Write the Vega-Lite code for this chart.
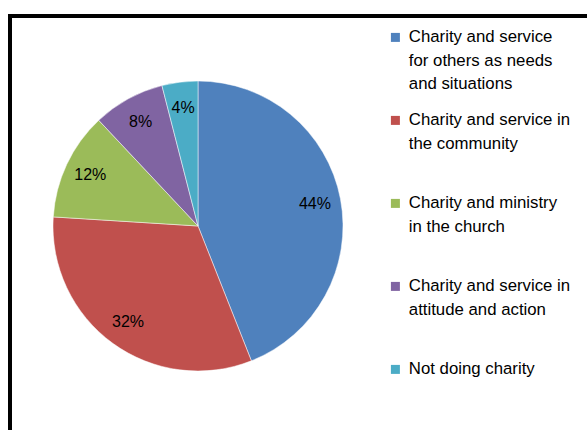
{
  "$schema": "https://vega.github.io/schema/vega-lite/v6.json",
  "autosize": "none",
  "width": 600,
  "height": 430,
  "padding": {"left": 10, "top": 16, "right": 0, "bottom": 0},
  "background": "white",
  "view": {"stroke": "#000000", "strokeWidth": 4, "fill": "white"},
  "config": {
    "view": {"stroke": "#000000", "strokeWidth": 4},
    "font": "Liberation Sans",
    "style": {"guide-label": {"lineHeight": 23.5}}
  },
  "data": {
    "values": [
      {"idx": 1, "category": "Charity and service for others as needs and situations", "value": 0.44},
      {"idx": 2, "category": "Charity and service in the community", "value": 0.32},
      {"idx": 3, "category": "Charity and ministry in the church", "value": 0.12},
      {"idx": 4, "category": "Charity and service in attitude and action", "value": 0.08},
      {"idx": 5, "category": "Not doing charity", "value": 0.04}
    ]
  },
  "encoding": {
    "theta": {"field": "value", "type": "quantitative", "stack": true},
    "order": {"field": "idx", "type": "quantitative"},
    "color": {
      "field": "category",
      "type": "nominal",
      "scale": {
        "domain": [
          "Charity and service for others as needs and situations",
          "Charity and service in the community",
          "Charity and ministry in the church",
          "Charity and service in attitude and action",
          "Not doing charity"
        ],
        "range": ["#4F81BD", "#C0504D", "#9BBB59", "#8064A2", "#4BACC6"]
      },
      "legend": {
        "title": null,
        "orient": "none",
        "legendX": 377,
        "legendY": 13,
        "padding": 0,
        "symbolType": "square",
        "symbolSize": 81,
        "symbolStrokeWidth": 0,
        "labelFont": "Liberation Sans",
        "labelFontSize": 16.8,
        "labelColor": "#000000",
        "labelLimit": 300,
        "labelOffset": 5,
        "labelBaseline": "middle",
        "gridAlign": "all",
        "rowPadding": 18,
        "labelExpr": "datum.label == 'Charity and service for others as needs and situations' ? ['Charity and service', 'for others as needs', 'and situations'] : datum.label == 'Charity and service in the community' ? ['Charity and service in', 'the community'] : datum.label == 'Charity and ministry in the church' ? ['Charity and ministry', 'in the church'] : datum.label == 'Charity and service in attitude and action' ? ['Charity and service in', 'attitude and action'] : datum.label"
      }
    }
  },
  "layer": [
    {
      "mark": {"type": "arc", "x": 188, "y": 210, "radius": 145, "stroke": "#ffffff", "strokeWidth": 0.7, "strokeOpacity": 0.7}
    },
    {
      "mark": {"type": "text", "x": 188, "y": 210, "radius": 119, "fontSize": 16, "font": "Liberation Sans", "color": "#000000"},
      "encoding": {
        "text": {"field": "value", "type": "quantitative", "format": ".0%"},
        "color": {"value": "#000000"}
      }
    }
  ]
}
